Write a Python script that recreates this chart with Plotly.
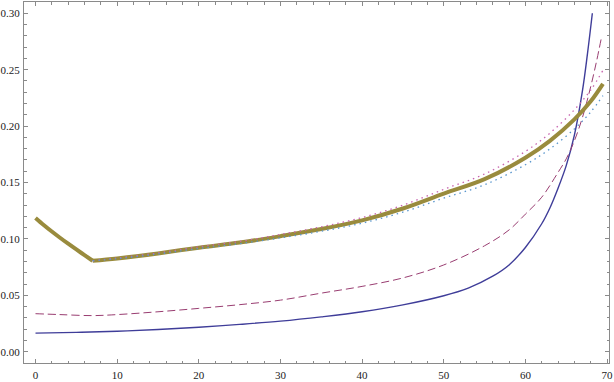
import plotly.graph_objects as go

# solid blue curve
blue_x = [0, 5, 10, 15, 20, 25, 30, 35, 40, 45, 50, 53, 56, 58, 60, 62, 63, 64, 65, 66, 67, 67.6, 68.2]
blue_y = [0.0166, 0.0172, 0.0182, 0.0198, 0.0218, 0.0243, 0.0272, 0.0310, 0.0355, 0.0416, 0.0497,
          0.0565, 0.0670, 0.0770, 0.0925, 0.1135, 0.1275, 0.1450, 0.1650, 0.1920, 0.2320, 0.2640, 0.3000]

# dashed curve
dash_x = [0, 3, 7, 10, 15, 20, 25, 30, 35, 40, 45, 50, 55, 58, 60, 62, 64, 65, 66, 67, 68, 68.7, 69.3]
dash_y = [0.0338, 0.0330, 0.0321, 0.0330, 0.0355, 0.0385, 0.0418, 0.0458, 0.0520, 0.0580, 0.0655,
          0.0770, 0.0940, 0.1080, 0.1220, 0.1370, 0.1590, 0.1710, 0.1870, 0.2080, 0.2350, 0.2570, 0.2780]

# thick olive curve and its dotted band
fit_x = [0, 1, 2, 3, 4, 5, 6, 7, 10, 15, 20, 25, 30, 35, 40, 45, 50, 55, 60, 63, 66, 68, 69.5]
fit_y = [0.1186, 0.1124, 0.1066, 0.1011, 0.0958, 0.0907, 0.0857, 0.0807, 0.0828, 0.0872, 0.0923,
         0.0968, 0.1025, 0.1088, 0.1165, 0.1270, 0.1402, 0.1530, 0.1720, 0.1870, 0.2060, 0.2220, 0.2375]
upper_y = [0.1186, 0.1124, 0.1066, 0.1011, 0.0958, 0.0907, 0.0857, 0.0807, 0.0831, 0.0877, 0.0931,
           0.0978, 0.1040, 0.1108, 0.1190, 0.1300, 0.1440, 0.1576, 0.1776, 0.1938, 0.2145, 0.2320, 0.2495]
lower_y = [0.1186, 0.1124, 0.1066, 0.1011, 0.0958, 0.0907, 0.0857, 0.0807, 0.0825, 0.0867, 0.0915,
           0.0958, 0.1010, 0.1068, 0.1140, 0.1238, 0.1362, 0.1480, 0.1658, 0.1798, 0.1975, 0.2125, 0.2270]

x_ticks = [0, 10, 20, 30, 40, 50, 60, 70]
y_ticks = [0.00, 0.05, 0.10, 0.15, 0.20, 0.25, 0.30]
y_labels = ["0.00", "0.05", "0.10", "0.15", "0.20", "0.25", "0.30"]

KINK = 7  # index of the corner at x = 7
SERIF = "Liberation Serif"

fig = go.Figure()
fig.add_trace(go.Scatter(x=blue_x, y=blue_y, mode="lines", line_shape="spline",
                         line=dict(color="rgb(63,61,153)", width=1.4)))
fig.add_trace(go.Scatter(x=dash_x, y=dash_y, mode="lines", line_shape="spline",
                         line=dict(color="rgb(153,61,113)", width=1, dash="8px,4px")))
# draw the thick curve in two pieces so the corner stays sharp
for xs, ys in [(fit_x[:KINK + 1], fit_y[:KINK + 1]), (fit_x[KINK:], fit_y[KINK:])]:
    fig.add_trace(go.Scatter(x=xs, y=ys, mode="lines", line_shape="spline",
                             line=dict(color="rgb(153,139,61)", width=4)))
fig.add_trace(go.Scatter(x=fit_x[KINK:], y=upper_y[KINK:], mode="lines", line_shape="spline",
                         line=dict(color="rgb(200,100,175)", width=1.3, dash="1.5px,4px")))
fig.add_trace(go.Scatter(x=fit_x[KINK:], y=lower_y[KINK:], mode="lines", line_shape="spline",
                         line=dict(color="rgb(90,150,205)", width=1.3, dash="1.5px,4px")))

axis_common = dict(showgrid=False, zeroline=False, showline=True, linecolor="#8a8a8a", linewidth=1,
                   mirror="ticks", ticks="inside", ticklen=4, tickcolor="#8a8a8a", tickwidth=1,
                   tickfont=dict(family=SERIF, size=11, color="#222"))

fig.update_layout(
    width=614, height=382, showlegend=False,
    paper_bgcolor="white", plot_bgcolor="white",
    font=dict(family=SERIF),
    margin=dict(l=22, r=5, t=1, b=16),
    xaxis=dict(range=[-1.41, 70.24], tickvals=x_ticks, ticklabelstandoff=2,
               minor=dict(dtick=2, ticks="inside", ticklen=2.5, tickcolor="#8a8a8a"),
               **axis_common),
    yaxis=dict(range=[-0.0099, 0.310], tickvals=y_ticks, ticktext=y_labels, ticklabelstandoff=1,
               minor=dict(dtick=0.01, ticks="inside", ticklen=2.5, tickcolor="#8a8a8a"),
               **axis_common),
)

fig.write_html("out.html", config={"displayModeBar": False},
               post_script="document.body.style.margin='0';")
